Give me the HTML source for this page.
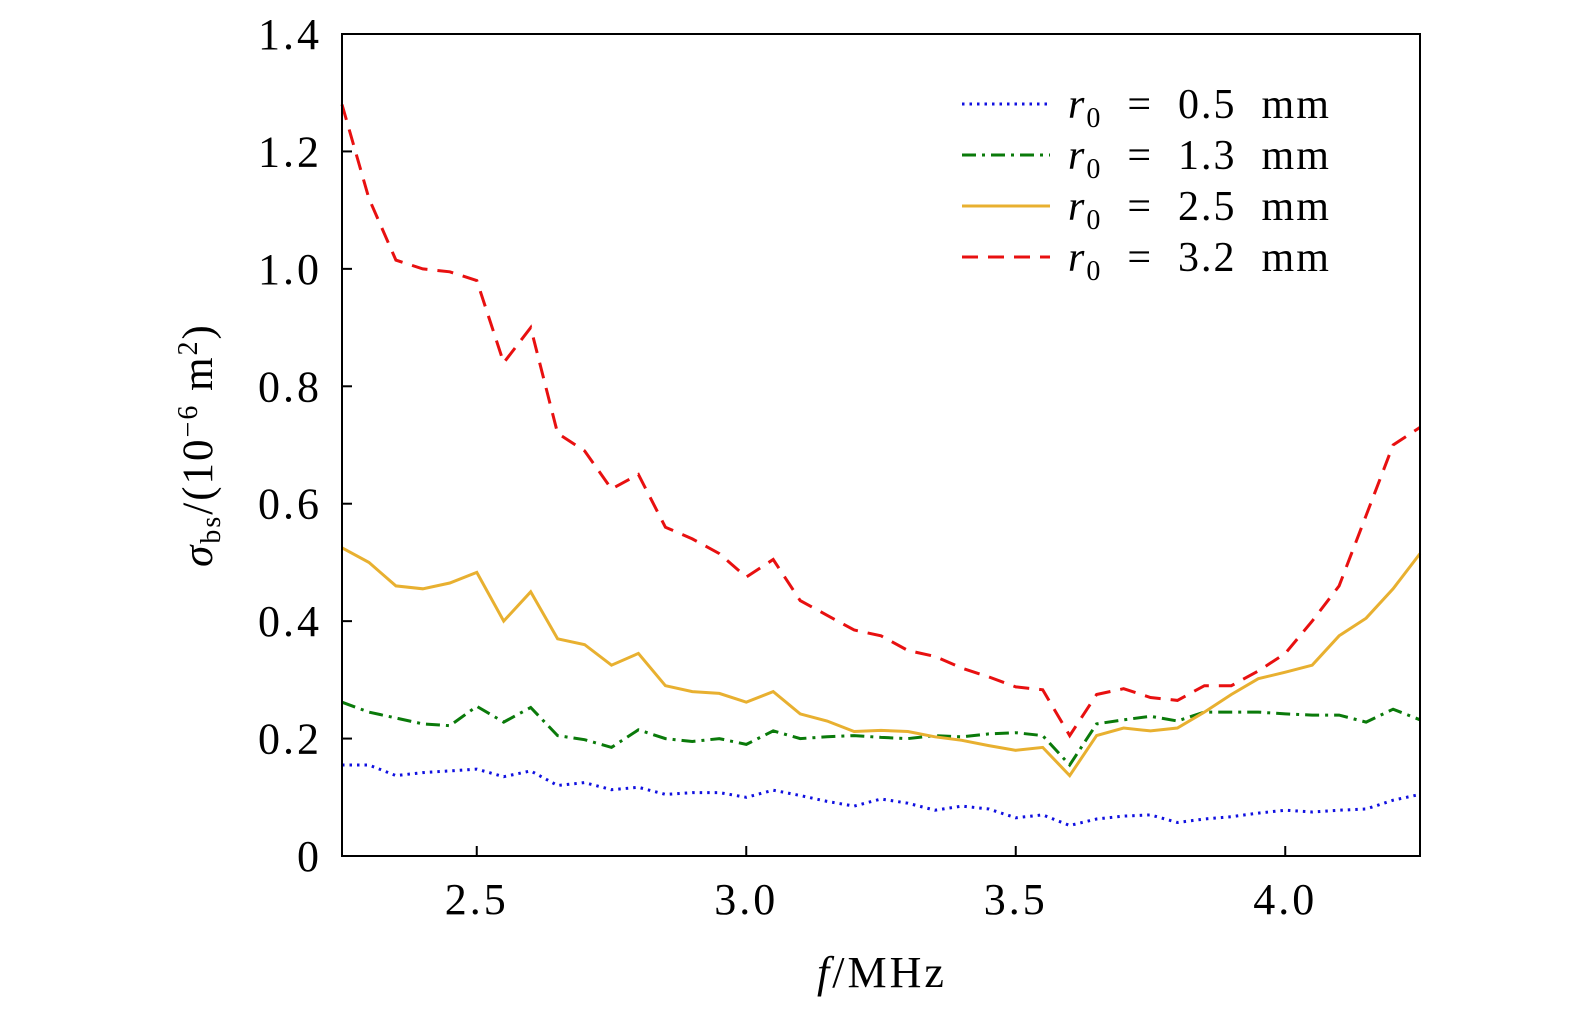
<!DOCTYPE html>
<html><head><meta charset="utf-8"><style>
body{margin:0;background:#fff;}
svg text{font-family:"Liberation Serif",serif;fill:#000;}
</style></head><body>
<svg id="chart" width="1575" height="1014" xmlns="http://www.w3.org/2000/svg">
<g id="marks"></g>
<rect x="342" y="34" width="1078" height="822" fill="none" stroke="#000" stroke-width="2"/>
<g id="axes"></g>
<text x="882" y="987" font-size="44" letter-spacing="3" text-anchor="middle"><tspan font-style="italic">f</tspan>/MHz</text>
<text transform="translate(212,445) rotate(-90)" font-size="43" letter-spacing="2" text-anchor="middle"><tspan font-style="italic">σ</tspan><tspan font-size="28" dy="8">bs</tspan><tspan dy="-8">/(10</tspan><tspan font-size="28" dy="-15">−6</tspan><tspan dy="15"> m</tspan><tspan font-size="28" dy="-15">2</tspan><tspan dy="15">)</tspan></text>
<g id="legend"></g>
</svg>
<script>
const freqs=[2.25,2.30,2.35,2.40,2.45,2.50,2.55,2.60,2.65,2.70,2.75,2.80,2.85,2.90,2.95,3.00,3.05,3.10,3.15,3.20,3.25,3.30,3.35,3.40,3.45,3.50,3.55,3.60,3.65,3.70,3.75,3.80,3.85,3.90,3.95,4.00,4.05,4.10,4.15,4.20,4.25];
const r05=[0.155,0.155,0.137,0.142,0.145,0.148,0.135,0.145,0.12,0.125,0.113,0.117,0.105,0.108,0.108,0.1,0.112,0.103,0.093,0.085,0.097,0.09,0.078,0.085,0.08,0.065,0.07,0.052,0.063,0.068,0.07,0.057,0.063,0.067,0.073,0.078,0.075,0.078,0.08,0.095,0.105];
const r13=[0.262,0.245,0.235,0.225,0.222,0.255,0.228,0.253,0.205,0.198,0.185,0.215,0.2,0.195,0.2,0.19,0.213,0.2,0.203,0.205,0.202,0.2,0.205,0.203,0.208,0.21,0.205,0.155,0.225,0.232,0.238,0.23,0.245,0.245,0.245,0.242,0.24,0.24,0.228,0.25,0.232];
const r25=[0.525,0.5,0.46,0.455,0.465,0.483,0.40,0.45,0.37,0.36,0.325,0.345,0.29,0.28,0.277,0.262,0.28,0.242,0.23,0.212,0.214,0.212,0.203,0.197,0.188,0.18,0.185,0.137,0.205,0.218,0.213,0.218,0.245,0.275,0.302,0.313,0.325,0.375,0.405,0.455,0.515];
const r32=[1.28,1.12,1.015,1.0,0.995,0.98,0.84,0.90,0.72,0.69,0.625,0.65,0.56,0.54,0.515,0.475,0.505,0.435,0.41,0.385,0.375,0.35,0.34,0.32,0.305,0.288,0.283,0.205,0.275,0.285,0.27,0.265,0.29,0.29,0.315,0.345,0.40,0.46,0.58,0.70,0.73];
const xTicks=[2.5,3.0,3.5,4.0];
const xTickLabels=["2.5","3.0","3.5","4.0"];
const yTicks=[0,0.2,0.4,0.6,0.8,1.0,1.2,1.4];
const yTickLabels=["0","0.2","0.4","0.6","0.8","1.0","1.2","1.4"];
const seriesLabels=["0.5","1.3","2.5","3.2"];

const NS="http://www.w3.org/2000/svg";
const X=f=>342+(f-2.25)/2.0*1078;
const Y=v=>856-v/1.4*822;
const styles=[
 {c:"#1010e0",d:"2.5 5",w:3,n:"series-r0-0.5mm"},
 {c:"#0a7a0a",d:"14 6 3 6",w:3,n:"series-r0-1.3mm"},
 {c:"#e8b030",d:"",w:3,n:"series-r0-2.5mm"},
 {c:"#e81010",d:"16 10",w:3,n:"series-r0-3.2mm"}];
const data=[r05,r13,r25,r32];
const marks=document.getElementById('marks');
data.forEach((s,i)=>{
 const p=document.createElementNS(NS,'polyline');
 p.setAttribute('points',s.map((v,j)=>X(freqs[j]).toFixed(1)+','+Y(v).toFixed(1)).join(' '));
 p.setAttribute('fill','none');p.setAttribute('stroke',styles[i].c);
 p.setAttribute('stroke-width',styles[i].w);
 if(styles[i].d)p.setAttribute('stroke-dasharray',styles[i].d);
 
 
 marks.appendChild(p);
});
const axes=document.getElementById('axes');
xTicks.forEach((t,i)=>{
 const l=document.createElementNS(NS,'line');
 l.setAttribute('x1',X(t));l.setAttribute('x2',X(t));l.setAttribute('y1',856);l.setAttribute('y2',846);
 l.setAttribute('stroke','#000');l.setAttribute('stroke-width',2);
 
 
 axes.appendChild(l);
 const tx=document.createElementNS(NS,'text');
 tx.setAttribute('x',X(t));tx.setAttribute('y',914);tx.setAttribute('font-size',44);tx.setAttribute('letter-spacing',3);tx.setAttribute('text-anchor','middle');
 tx.textContent=xTickLabels[i];
 
 
 axes.appendChild(tx);
});
yTicks.forEach((t,i)=>{
 const l=document.createElementNS(NS,'line');
 l.setAttribute('x1',342);l.setAttribute('x2',352);l.setAttribute('y1',Y(t));l.setAttribute('y2',Y(t));
 l.setAttribute('stroke','#000');l.setAttribute('stroke-width',2);
 
 
 axes.appendChild(l);
 const tx=document.createElementNS(NS,'text');
 tx.setAttribute('x',322);tx.setAttribute('y',Y(t)+15);tx.setAttribute('font-size',44);tx.setAttribute('letter-spacing',3);tx.setAttribute('text-anchor','end');
 tx.textContent=yTickLabels[i];
 
 
 axes.appendChild(tx);
});
const lg=document.getElementById('legend');
seriesLabels.forEach((lab,i)=>{
 const y=104+i*51;
 const l=document.createElementNS(NS,'line');
 l.setAttribute('x1',962);l.setAttribute('x2',1050);l.setAttribute('y1',y);l.setAttribute('y2',y);
 l.setAttribute('stroke',styles[i].c);l.setAttribute('stroke-width',3);
 if(styles[i].d)l.setAttribute('stroke-dasharray',styles[i].d);
 
 
 lg.appendChild(l);
 const tx=document.createElementNS(NS,'text');
 tx.setAttribute('x',1068);tx.setAttribute('y',y+14);tx.setAttribute('font-size',42);tx.setAttribute('letter-spacing',2);
 tx.setAttribute('xml:space','preserve');
 tx.innerHTML='<tspan font-style="italic">r</tspan><tspan font-size="28" dy="9">0</tspan><tspan dy="-9" style="white-space:pre">  =  '+lab+'  mm</tspan>';
 
 
 lg.appendChild(tx);
});
</script>
</body></html>
